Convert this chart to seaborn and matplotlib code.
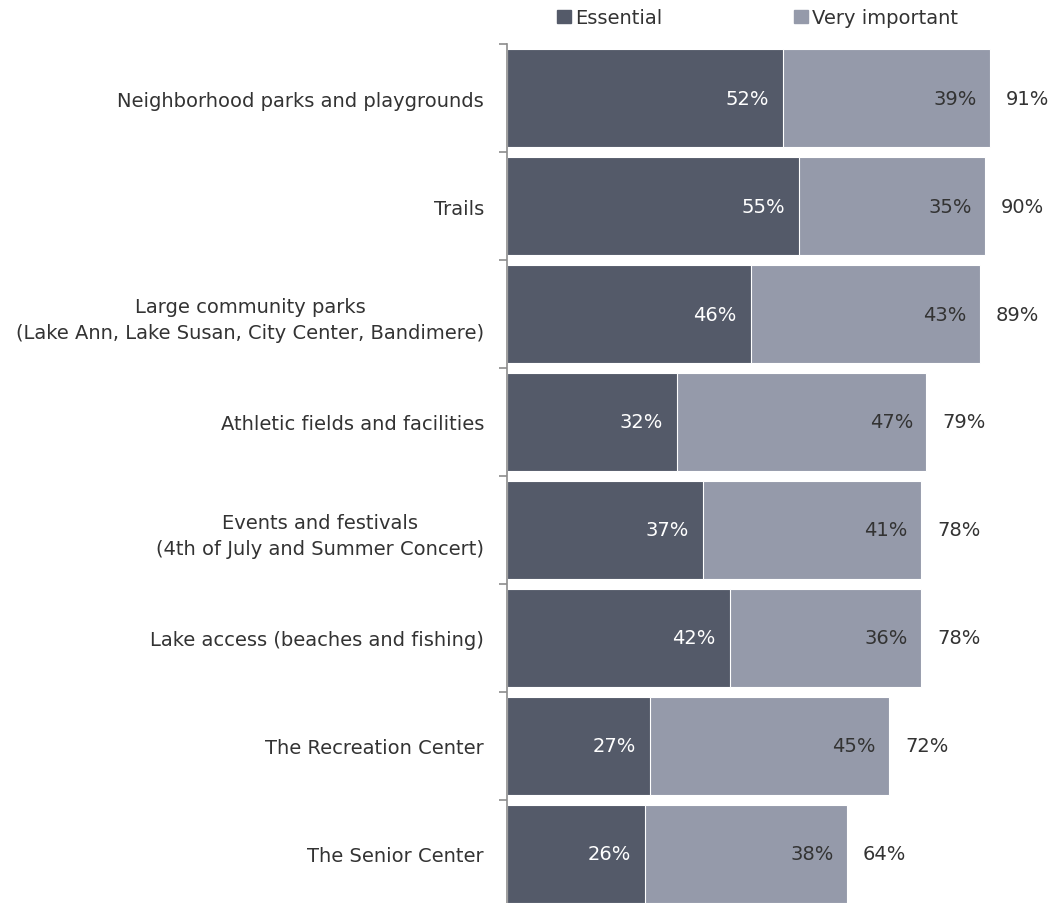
import matplotlib
matplotlib.use("Agg")
import matplotlib.pyplot as plt
import matplotlib.patches as mpatches
from matplotlib.ticker import FixedLocator
import seaborn as sns
import pandas as pd

categories = [
    "Neighborhood parks and playgrounds",
    "Trails",
    "Large community parks\n(Lake Ann, Lake Susan, City Center, Bandimere)",
    "Athletic fields and facilities",
    "Events and festivals\n(4th of July and Summer Concert)",
    "Lake access (beaches and fishing)",
    "The Recreation Center",
    "The Senior Center",
]
essential = [52, 55, 46, 32, 37, 42, 27, 26]
very_important = [39, 35, 43, 47, 41, 36, 45, 38]
totals = [91, 90, 89, 79, 78, 78, 72, 64]

DARK = "#545a69"
LIGHT = "#959aaa"
TEXT = "#333333"
FS = 14

sns.set_theme(style="white")
plt.rcParams["font.family"] = ["DejaVu Sans"]

df = pd.DataFrame({
    "category": categories,
    "essential": essential,
    "very_important": very_important,
    "total": [e + v for e, v in zip(essential, very_important)],
})

fig = plt.figure(figsize=(10.52, 9.04), dpi=100)
ax = fig.add_axes([0.4819, -0.0055, 0.5048, 0.9557])

# stacked bars: full (essential + very important) behind, essential on top
sns.barplot(data=df, x="total", y="category", orient="h", color=LIGHT,
            width=0.91, edgecolor="white", linewidth=0.8, saturation=1, ax=ax)
sns.barplot(data=df, x="essential", y="category", orient="h", color=DARK,
            width=0.91, edgecolor="white", linewidth=0.8, saturation=1, ax=ax)

ax.set_xlim(0, 100)
ax.set_ylim(len(categories) - 0.5, -0.5)
ax.set_xlabel("")
ax.set_ylabel("")
ax.set_xticks([])

for s in ["top", "right", "bottom"]:
    ax.spines[s].set_visible(False)
ax.spines["left"].set_color("#8c8c8c")
ax.spines["left"].set_linewidth(1.2)

ax.tick_params(axis="y", which="major", length=0, pad=16.5,
               labelsize=FS, labelcolor=TEXT)
for lbl in ax.get_yticklabels():
    lbl.set_multialignment("center")
    lbl.set_linespacing(1.45)
ax.yaxis.set_minor_locator(FixedLocator([i - 0.5 for i in range(len(categories) + 1)]))
ax.tick_params(axis="y", which="minor", left=True, length=6, width=1.2,
               color="#8c8c8c")

for i, (e, v, t) in enumerate(zip(essential, very_important, totals)):
    ax.text(e - 2.7, i, f"{e}%", ha="right", va="center", color="white",
            fontsize=FS)
    ax.text(e + v - 2.5, i, f"{v}%", ha="right", va="center", color=TEXT,
            fontsize=FS)
    ax.text(e + v + 3.0, i, f"{t}%", ha="left", va="center", color=TEXT,
            fontsize=FS)

handles = [mpatches.Patch(color=DARK, label="Essential"),
           mpatches.Patch(color=LIGHT, label="Very important")]
fig.legend(handles=handles, loc="center", bbox_to_anchor=(0.72, 0.979),
           ncol=2, frameon=False, fontsize=FS, handlelength=0.7,
           handleheight=0.7, handletextpad=0.2, columnspacing=6.8,
           labelcolor=TEXT)

fig.savefig("out.png", dpi=100)
